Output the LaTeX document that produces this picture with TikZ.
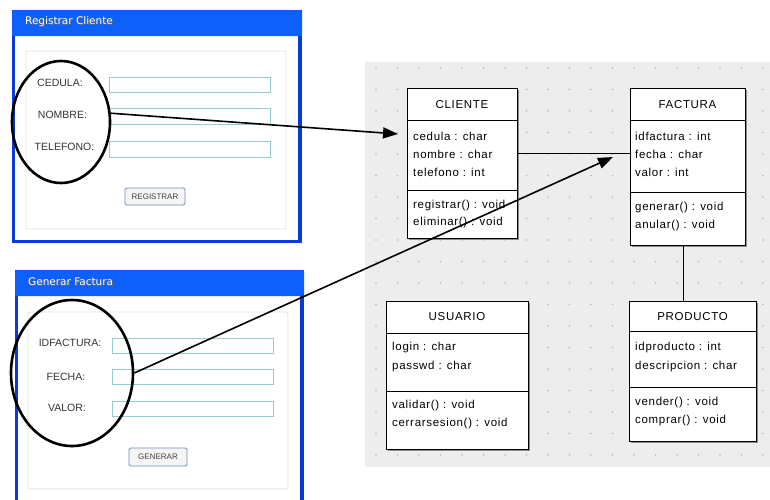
\documentclass[tikz,border=0pt]{standalone}
\usepackage{fontspec}
\setmainfont{Liberation Sans}
\newfontfamily\wintitlefont{DejaVu Sans}
\newfontfamily\umlfont[LetterSpace=6]{Liberation Sans}
\usetikzlibrary{shapes.geometric,arrows.meta,shadows}

\definecolor{xpframe}{RGB}{8,60,214}
\definecolor{xptitle}{RGB}{14,96,252}
\definecolor{fieldline}{RGB}{150,206,206}
\definecolor{canvasgray}{RGB}{237,237,237}
\definecolor{btnline}{RGB}{112,142,184}
\definecolor{panelline}{RGB}{226,226,220}

\tikzset{
  winlabel/.style={font=\fontsize{10.5}{12}\selectfont, text=black!80, inner sep=0pt},
  wintitle/.style={font=\wintitlefont\fontsize{10.5}{12}\selectfont, anchor=west, inner sep=0pt},
  field/.style={draw=fieldline, fill=white, line width=0.8pt},
  btn/.style={draw=btnline, fill=black!4, rounded corners=1.5pt, line width=0.8pt,
    font=\fontsize{8}{9}\selectfont, text=black!75, inner sep=0pt},
  circled/.style={ellipse, draw=black, line width=2.6pt, inner sep=0pt},
  conn/.style={draw=black, line width=1.6pt, -{Triangle[length=15pt,width=11pt]}},
  classbox/.style={draw=black, fill=white, line width=0.9pt, anchor=north west, inner sep=0pt,
    drop shadow={shadow xshift=1.6pt, shadow yshift=-1.6pt, fill=black!45, opacity=1}},
  classname/.style={font=\umlfont\fontsize{11.5}{13}\selectfont, inner sep=0pt},
  member/.style={font=\umlfont\fontsize{11.5}{13}\selectfont, anchor=west, inner sep=0pt},
  assoc/.style={draw=black, line width=0.9pt},
}

\begin{document}
\begin{tikzpicture}[x=1pt,y=-1pt]
\useasboundingbox (0,0) rectangle (770,499);
\clip (0,0) rectangle (770,499);
\fill[white] (0,0) rectangle (770,499);

% ---------- window: Registrar Cliente ----------
\fill[xpframe] (12,10) rectangle (302,243);
\fill[white] (15,33) rectangle (298,240);
\fill[xptitle, rounded corners=2pt] (12,10) rectangle (302,36);
\fill[xptitle] (12,26) rectangle (302,33);
\node[wintitle, text=black!60] (t1s) at (26,22.8) {Registrar Cliente};
\node[wintitle, text=white] (t1) at (25,22) {Registrar Cliente};
\draw[panelline, fill=white, rounded corners=2pt, line width=0.8pt] (26,51) rectangle (286,229);

\node[winlabel] (lcedula) at (60,83) {CEDULA:};
\node[winlabel] (lnombre) at (62.5,115) {NOMBRE:};
\node[winlabel] (ltel) at (64.5,147) {TELEFONO:};
\draw[field] (109,77) rectangle (270,92);
\draw[field] (109,108) rectangle (270,124);
\draw[field] (109,141) rectangle (270,157);
\node[btn, minimum width=60pt, minimum height=17pt] (breg) at (155,196.5) {REGISTRAR};

% ---------- window: Generar Factura ----------
\fill[xpframe] (15,270) rectangle (304,510);
\fill[white] (18,293) rectangle (300,510);
\fill[xptitle, rounded corners=2pt] (15,270) rectangle (304,296);
\fill[xptitle] (15,286) rectangle (304,293);
\node[wintitle, text=black!60] (t2s) at (29,282.8) {Generar Factura};
\node[wintitle, text=white] (t2) at (28,282) {Generar Factura};
\draw[panelline, fill=white, rounded corners=2pt, line width=0.8pt] (28,312) rectangle (288,489);

\node[winlabel] (lidf) at (70,343) {IDFACTURA:};
\node[winlabel] (lfecha) at (66,377) {FECHA:};
\node[winlabel] (lvalor) at (67,408) {VALOR:};
\draw[field] (112,338) rectangle (273,353);
\draw[field] (112,369) rectangle (273,384);
\draw[field] (112,401) rectangle (273,416);
\node[btn, minimum width=58pt, minimum height=18pt] (bgen) at (158,457) {GENERAR};

% ---------- class diagram canvas ----------
\fill[canvasgray] (365,62) rectangle (775,467);
\foreach \i in {0,...,18}
  \foreach \j in {0,...,18}
    \fill[black!28] (376+21.5*\i,68+21.5*\j) circle (0.8pt);

% CLIENTE
\node[classbox, minimum width=110pt, minimum height=150pt] (cliente) at (407,88) {};
\draw[line width=0.9pt] (cliente.west |- 0,120) -- (cliente.east |- 0,120);
\draw[line width=0.9pt] (cliente.west |- 0,190) -- (cliente.east |- 0,190);
\node[classname] (nclient) at (462,105) {CLIENTE};
\node[member] (c1) at (413,136) {cedula : char};
\node[member] (c2) at (413,154) {nombre : char};
\node[member] (c3) at (413,172) {telefono : int};
\node[member] (c4) at (413,206) {registrar() : void};
\node[member] (c5) at (413,223) {eliminar() : void};

% FACTURA
\node[classbox, minimum width=115pt, minimum height=157pt] (factura) at (630,88) {};
\draw[line width=0.9pt] (factura.west |- 0,120) -- (factura.east |- 0,120);
\draw[line width=0.9pt] (factura.west |- 0,192) -- (factura.east |- 0,192);
\node[classname] (nfact) at (687.5,105) {FACTURA};
\node[member] (f1) at (635,136) {idfactura : int};
\node[member] (f2) at (635,154) {fecha : char};
\node[member] (f3) at (635,172) {valor : int};
\node[member] (f4) at (635,208) {generar() : void};
\node[member] (f5) at (635,226) {anular() : void};

% USUARIO
\node[classbox, minimum width=142pt, minimum height=148pt] (usuario) at (386,301) {};
\draw[line width=0.9pt] (usuario.west |- 0,333) -- (usuario.east |- 0,333);
\draw[line width=0.9pt] (usuario.west |- 0,391) -- (usuario.east |- 0,391);
\node[classname] (nusu) at (457,317) {USUARIO};
\node[member] (u1) at (392,348) {login : char};
\node[member] (u2) at (392,367) {passwd : char};
\node[member] (u3) at (392,406) {validar() : void};
\node[member] (u4) at (392,424) {cerrarsesion() : void};

% PRODUCTO
\node[classbox, minimum width=127pt, minimum height=140pt] (producto) at (629,301) {};
\draw[line width=0.9pt] (producto.west |- 0,331) -- (producto.east |- 0,331);
\draw[line width=0.9pt] (producto.west |- 0,387) -- (producto.east |- 0,387);
\node[classname] (nprod) at (692.5,317) {PRODUCTO};
\node[member] (p1) at (635,348) {idproducto : int};
\node[member] (p2) at (635,367) {descripcion : char};
\node[member] (p3) at (635,403) {vender() : void};
\node[member] (p4) at (635,421) {comprar() : void};

% associations
\draw[assoc] (cliente.east |- 0,153) -- (factura.west |- 0,153);
\draw[assoc] (factura.south -| 683,0) -- (producto.north -| 683,0);

% ---------- highlight ellipses and arrows ----------
\node[circled, minimum width=98pt, minimum height=122pt] (e1) at (61,122) {};
\node[circled, minimum width=122pt, minimum height=146pt] (e2) at (72,373) {};
\coordinate (tip1) at (398,134);
\coordinate (tip2) at (613,157);
\draw[conn] (e1.10) -- (tip1);
\draw[conn] (e2.east) -- (tip2);
\end{tikzpicture}
\end{document}
